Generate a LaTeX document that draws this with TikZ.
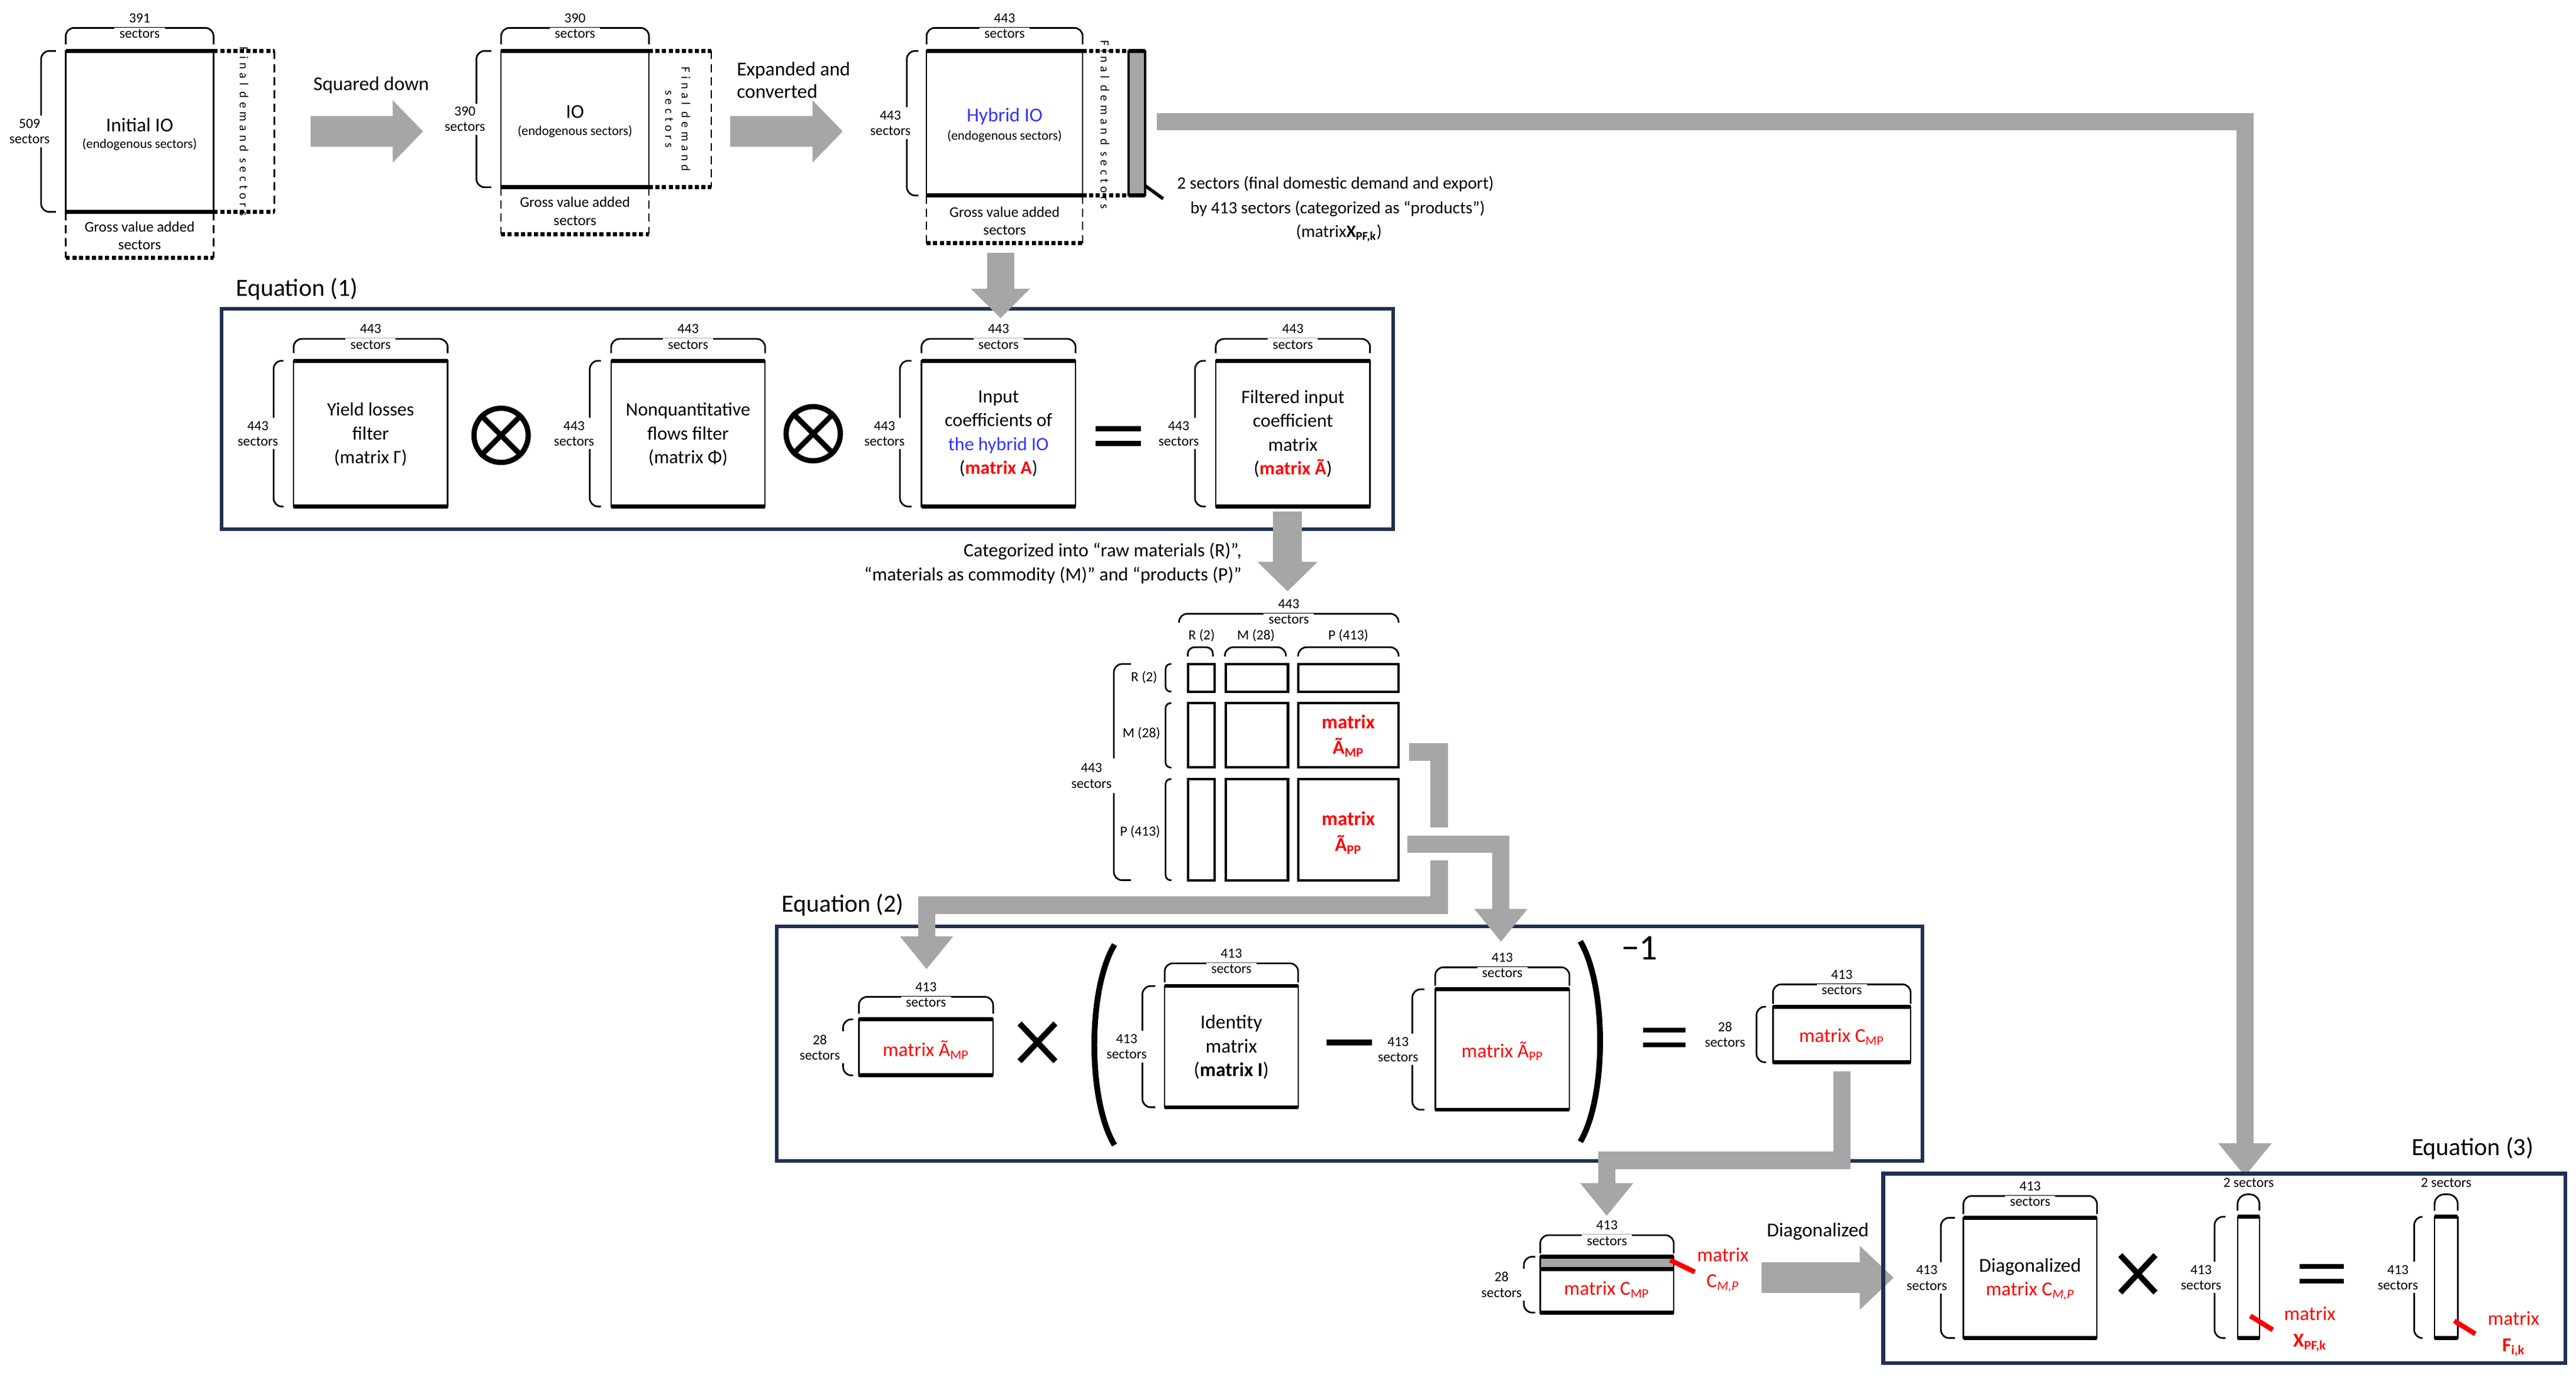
\documentclass[tikz,border=0pt]{standalone}
\usepackage{fontspec}
\setmainfont{Carlito}
\newfontfamily\spc{Carlito}[LetterSpace=30]
\usetikzlibrary{arrows.meta,fit}
\definecolor{gr}{HTML}{A6A6A6}
\definecolor{nv}{HTML}{1F3050}
\definecolor{bl}{HTML}{3333FF}
\tikzset{
 sm/.style={font=\fontsize{8.5}{9.5}\selectfont,align=center,inner sep=1pt},
 md/.style={font=\fontsize{11.5}{14.5}\selectfont,align=center},
 mq/.style={font=\fontsize{12}{14.5}\selectfont,align=center},
 ttl/.style={font=\fontsize{15}{17}\selectfont},
 fd/.style={font=\spc\fontsize{7.5}{10}\selectfont,align=center,rotate=-90},
 br/.style={line width=1pt,rounded corners=5pt},
 dsh/.style={line width=0.9pt,dash pattern=on 5pt off 3pt},
 dotl/.style={line width=2.4pt,dash pattern=on 2.5pt off 1.5pt},
 eqb/.style={draw=nv,line width=2.2pt},
 ga/.style={draw=gr,line width=10.5pt,line join=miter,-{Triangle[width=31pt,length=20pt]}},
 blk/.style={draw=gr,line width=19pt,-{Triangle[width=37pt,length=18.5pt]}},
 rp/.style={red,line width=3pt},
 opl/.style={line width=3.2pt},
}
\newcommand\MX[5]{%
 \coordinate (#1a) at (#2,#3); \coordinate (#1b) at (#4,#5);
 \node[draw,line width=0.9pt,inner sep=0pt,outer sep=0pt,fit=(#1a)(#1b)] (#1) {};
 \draw[line width=2.4pt] (#2,#3)--(#4,#3) (#2,#5)--(#4,#5);}
\newcommand\TB[6]{%
 \draw[br] (#2,#5) -- (#2,#4) -- (#3,#4) -- (#3,#5);
 \node[sm,fill=white,inner xsep=3pt] (#1s) at ({(#2+#3)/2},{#4+3.5}) {sectors};
 \node[sm] (#1n) at ({(#2+#3)/2},{#4-6}) {#6};}
\newcommand\LB[7]{%
 \draw[br] (#3,#4) -- (#2,#4) -- (#2,#5) -- (#3,#5);
 \node[sm,fill=white,inner xsep=3pt,inner ysep=2pt] (#1) at (#6,{(#4+#5)/2}) {#7\\sectors};}
\begin{document}
\begin{tikzpicture}[x=1pt,y=-1pt]
\useasboundingbox (0,0) rectangle (1568,839.4);
% ---------- top row ----------
\MX{ini}{40}{31}{130}{129}
\node[font=\fontsize{12}{13}\selectfont] (iniT) at (85,76) {Initial IO};
\node[font=\fontsize{8}{9}\selectfont] (iniE) at (85,88) {(endogenous sectors)};
\draw[dsh] (167,31) -- (167,129);
\draw[dotl] (130,31)--(167,31) (130,129)--(167,129);
\node[fd] (iniF) at (148.5,80) {Final demand sectors};
\draw[dsh] (40,129)--(40,157) (130,129)--(130,157);
\draw[dotl] (40,157)--(130,157);
\node[sm,font=\fontsize{9}{11}\selectfont] (iniG) at (85,143.5) {Gross value added\\sectors};
\TB{iniB}{40}{130}{17}{27}{391}
\LB{iniL}{25}{34}{31}{129}{18}{509}

\MX{io}{305}{31}{395}{114}
\node[font=\fontsize{12}{13}\selectfont] (ioT) at (350,68) {IO};
\node[font=\fontsize{8}{9}\selectfont] (ioE) at (350,80) {(endogenous sectors)};
\draw[dsh] (433,31) -- (433,114);
\draw[dotl] (395,31)--(433,31) (395,114)--(433,114);
\node[fd] (ioF) at (412.5,72.5) {Final demand\\sectors};
\draw[dsh] (305,114)--(305,142.5) (395,114)--(395,142.5);
\draw[dotl] (305,142.5)--(395,142.5);
\node[sm,font=\fontsize{9}{11}\selectfont] (ioG) at (350,128.5) {Gross value added\\sectors};
\TB{ioB}{305}{395}{17}{27}{390}
\LB{ioL}{290}{299}{31}{114}{283}{390}

\MX{hy}{564}{31}{659}{119}
\node[font=\fontsize{12}{13}\selectfont,text=bl] (hyT) at (611.5,71) {Hybrid IO};
\node[font=\fontsize{8}{9}\selectfont] (hyE) at (611.5,83) {(endogenous sectors)};
\draw[dotl] (659,31)--(687,31) (659,119)--(687,119);
\draw[fill=gr,line width=1.2pt] (687,31) rectangle (697,119);
\draw[line width=2.4pt] (687,31)--(697,31) (687,119)--(697,119);
\node[fd] (hyF) at (672.5,76) {Final demand sectors};
\draw[dsh] (564,119)--(564,148) (659,119)--(659,148);
\draw[dotl] (564,148)--(659,148);
\node[sm,font=\fontsize{9}{11}\selectfont] (hyG) at (611.5,134.5) {Gross value added\\sectors};
\TB{hyB}{564}{659}{17}{27}{443}
\LB{hyL}{552}{559}{31}{119}{542}{443}
\coordinate (fdp) at (697,113);
\draw[line width=2pt] (fdp) -- (708,121);
\node[font=\fontsize{10.5}{12}\selectfont,anchor=west] (fdl1) at (713,112) {2 sectors (final domestic demand and export)};
\node[font=\fontsize{10.5}{12}\selectfont,anchor=west] (fdl2) at (721,127) {by 413 sectors (categorized as “products”)};
\node[font=\fontsize{10.5}{12}\selectfont] (fdl3) at (815,142) {(matrix\textbf{X\textsubscript{PF,k}})};

\coordinate (a1s) at (189,80); \coordinate (a1e) at (257.5,80);
\draw[blk] (a1s) -- (a1e);
\node[font=\fontsize{12}{13}\selectfont] (a1t) at (226,52) {Squared down};
\coordinate (a2s) at (444.6,80); \coordinate (a2e) at (513,80);
\draw[blk] (a2s) -- (a2e);
\node[font=\fontsize{12}{13.7}\selectfont,align=left,anchor=west] (a2t) at (445,48.7) {Expanded and\\converted};

% ---------- Equation 1 ----------
\node[eqb,inner sep=0pt,minimum width=713pt,minimum height=134pt] (eq1) at (491.5,255) {};
\node[ttl] (eq1t) at (180.7,176) {Equation (1)};
\MX{b1}{178.7}{219.6}{272.5}{308.3}
\TB{b1B}{178.7}{272.5}{206.3}{215}{443}
\LB{b1L}{166.5}{172.6}{219.6}{308.3}{157}{443}
\node[md] (b1t) at (225.6,264.5) {Yield losses\\filter\\(matrix Γ)};
\MX{b2}{372}{219.6}{465.7}{308.3}
\TB{b2B}{372}{465.7}{206.3}{215}{443}
\LB{b2L}{359}{365.8}{219.6}{308.3}{349.4}{443}
\node[md] (b2t) at (418.8,264.5) {Nonquantitative\\flows filter\\(matrix Φ)};
\MX{b3}{560.9}{219.6}{654.7}{308.3}
\TB{b3B}{560.9}{654.7}{206.3}{215}{443}
\LB{b3L}{547.8}{554.8}{219.6}{308.3}{538.4}{443}
\node[md] (b3t) at (607.8,264) {Input\\coefficients of\\\textcolor{bl}{the hybrid IO}\\(\textcolor{red}{\textbf{matrix A}})};
\MX{b4}{740}{219.6}{833.9}{308.3}
\TB{b4B}{740}{833.9}{206.3}{215}{443}
\LB{b4L}{727.4}{734}{219.6}{308.3}{717.5}{443}
\node[md] (b4t) at (787,264) {Filtered input\\coefficient\\matrix\\(\textcolor{red}{\textbf{matrix Ã}})};
\node[circle,draw,line width=3.2pt,minimum size=33pt,inner sep=0pt] (ot1) at (305,265) {};
\draw[opl] (ot1.north west) -- (ot1.south east) (ot1.north east) -- (ot1.south west);
\node[circle,draw,line width=3.2pt,minimum size=33pt,inner sep=0pt] (ot2) at (495,264) {};
\draw[opl] (ot2.north west) -- (ot2.south east) (ot2.north east) -- (ot2.south west);
\draw[line width=3pt] (667,261)--(694.6,261) (667,270)--(694.6,270);

\coordinate (d1s) at (609,154); \coordinate (d1e) at (609,193.7);
\draw[ga,line width=16.5pt,-{Triangle[width=35pt,length=18pt]}] (d1s) -- (d1e);
\coordinate (d2s) at (783.7,311.5); \coordinate (d2e) at (783.7,360);
\draw[ga,line width=17.5pt,-{Triangle[width=35.6pt,length=18pt]}] (d2s) -- (d2e);
\node[font=\fontsize{11.5}{14.7}\selectfont,align=right,anchor=east] (cat) at (759.3,343) {Categorized into “raw materials (R)”,\\“materials as commodity (M)” and “products (P)”};

% ---------- grid ----------
\TB{gB}{717.7}{851.3}{373.6}{379}{443}
\draw[br,rounded corners=4pt] (723,399.6)--(723,394)--(738.3,394)--(738.3,399.6);
\draw[br] (745.6,399.6)--(745.6,394)--(782.7,394)--(782.7,399.6);
\draw[br] (790.2,399.6)--(790.2,394)--(851.3,394)--(851.3,399.6);
\node[sm] (cR) at (731.4,387) {R (2)};
\node[sm] (cM) at (764.5,387) {M (28)};
\node[sm] (cP) at (820.7,387) {P (413)};
\foreach \r/\ya/\yb in {R/404.2/421,M/428/467.2,P/474.2/535.8}{
 \draw[line width=1.5pt] (723.2,\ya) rectangle (739.2,\yb);
 \draw[line width=1.5pt] (746,\ya) rectangle (784,\yb);
 \draw[line width=1.5pt] (790.2,\ya) rectangle (851.3,\yb);
 \draw[br,rounded corners=3pt] (713,\ya)--(709.5,\ya)--(709.5,\yb)--(713,\yb);
}
\node[sm] (rR) at (696.4,412.4) {R (2)};
\node[sm] (rM) at (694.8,446.5) {M (28)};
\node[sm] (rP) at (694,506.4) {P (413)};
\draw[br] (688.4,404.2)--(678,404.2)--(678,535.8)--(688.4,535.8);
\node[sm,fill=white,inner xsep=4pt,inner ysep=3pt] (gL) at (664.4,472.3) {443\\sectors};
\node[font=\bfseries\fontsize{12}{15.5}\selectfont,text=red,align=center] (gMP) at (820.7,448) {matrix\\Ã\textsubscript{MP}};
\node[font=\bfseries\fontsize{12}{15.5}\selectfont,text=red,align=center] (gPP) at (820.7,507) {matrix\\Ã\textsubscript{PP}};

% ---------- Equation 2 ----------
\node[eqb,inner sep=0pt,minimum width=697.2pt,minimum height=142.6pt] (eq2) at (821.4,635.3) {};
\node[ttl] (eq2t) at (513,551) {Equation (2)};
\MX{c1}{522.8}{620.5}{604.5}{654.6}
\TB{c1B}{522.8}{604.5}{606.8}{617}{413}
\LB{c1L}{513.2}{519.3}{620.5}{654.6}{499}{28}
\node[mq,text=red] (c1t) at (563.6,639) {matrix Ã\textsubscript{MP}};
\draw[line width=3.5pt] (620.6,623)--(642.4,646) (642.4,623)--(620.6,646);
\draw[line width=3.5pt] (678.4,575) .. controls (662,602) and (662,670) .. (678.4,697);
\draw[line width=3.5pt] (961.9,573) .. controls (978,600) and (978,668) .. (961.9,695);
\node[font=\fontsize{22}{24}\selectfont] (inv) at (998,577) {−1};
\MX{c2}{708.9}{600.2}{790.2}{674}
\TB{c2B}{708.9}{790.2}{586.4}{598}{413}
\LB{c2L}{695.4}{703.2}{600.2}{674}{685.8}{413}
\node[mq] (c2t) at (749.5,637.5) {Identity\\matrix\\(\textbf{matrix I})};
\draw[line width=3.5pt] (807.5,634.6)--(835,634.6);
\MX{c3}{873.6}{602.2}{955.3}{675.5}
\TB{c3B}{873.6}{955.3}{588.8}{600}{413}
\LB{c3L}{859.7}{867}{602.2}{675.5}{851}{413}
\node[mq,text=red] (c3t) at (914.5,640) {matrix Ã\textsubscript{PP}};
\draw[line width=3pt] (1000,627)--(1026,627) (1000,636)--(1026,636);
\MX{c4}{1079.2}{612.8}{1163}{646.6}
\TB{c4B}{1079.2}{1163}{599.2}{611}{413}
\LB{c4L}{1069.2}{1075}{612.8}{646.6}{1050}{28}
\node[mq,text=red] (c4t) at (1121,631) {matrix C\textsubscript{MP}};

% ---------- connectors from grid ----------
\draw[ga] (857.7,457.7) -- (876,457.7) -- (876,551) -- (564,551) -- (564,590);
\draw[white,line width=20pt] (856.6,513.8) -- (918.8,513.8);
\draw[ga] (856.6,513.8) -- (913.6,513.8) -- (913.6,573.3);
\draw[ga] (1121.2,652) -- (1121.2,706.3) -- (978,706.3) -- (978,740.2);
\draw[ga] (704,74) -- (1366.5,74) -- (1366.5,716);

% ---------- Equation 3 ----------
\fill[gr] (937.5,765) rectangle (1018.8,772.4);
\MX{d1}{937.5}{765}{1018.8}{799}
\draw[line width=2.4pt] (937.5,772.4)--(1018.8,772.4);
\TB{d1B}{937.5}{1018.8}{751.9}{763}{413}
\LB{d1L}{927.6}{934.5}{765}{799}{914}{28}
\node[mq,text=red] (d1t) at (978,785) {matrix C\textsubscript{MP}};
\draw[rp] (1016.6,767)--(1031.6,774.3);
\node[font=\fontsize{12}{16}\selectfont,text=red,align=center] (d1p) at (1048.7,773) {matrix\\C\textsubscript{\textit{M,P}}};
\coordinate (a3s) at (1072.3,777.8); \coordinate (a3e) at (1152.7,777.8);
\draw[blk,line width=18.6pt,-{Triangle[width=37.7pt,length=20.7pt]}] (a3s) -- (a3e);
\node[font=\fontsize{12}{13}\selectfont] (a3t) at (1106.5,749.7) {Diagonalized};
\node[eqb,inner sep=0pt,minimum width=415.2pt,minimum height=115.2pt] (eq3) at (1353.9,772) {};
\node[ttl] (eq3t) at (1505,699) {Equation (3)};
\MX{e1}{1195.1}{741.3}{1276.4}{814.5}
\TB{e1B}{1195.1}{1276.4}{728}{739}{413}
\LB{e1L}{1181.4}{1190}{741.3}{814.5}{1172.9}{413}
\node[mq,align=center] (e1t) at (1235.7,778.7) {Diagonalized\\\textcolor{red}{matrix C\textsubscript{\textit{M,P}}}};
\draw[line width=3.5pt] (1290.6,764)--(1312,786.8) (1312,764)--(1290.6,786.8);
\MX{e2}{1362}{740.7}{1375.3}{814.5}
\draw[line width=1pt,rounded corners=6pt] (1362,737)--(1362,727)--(1375.3,727)--(1375.3,737);
\node[sm] (e2n) at (1368.7,720) {2 sectors};
\LB{e2L}{1348}{1354.7}{740.7}{814.5}{1339.8}{413}
\draw[rp] (1369.7,801)--(1383.4,809.5);
\node[font=\fontsize{12}{16}\selectfont,text=red,align=center] (e2p) at (1406,809) {matrix\\\textbf{X\textsubscript{PF,k}}};
\draw[line width=3pt] (1399.7,770.9)--(1426.7,770.9) (1399.7,779.9)--(1426.7,779.9);
\MX{e3}{1481.9}{740.7}{1496}{814.5}
\draw[line width=1pt,rounded corners=6pt] (1481.9,737)--(1481.9,727)--(1496,727)--(1496,737);
\node[sm] (e3n) at (1489,720) {2 sectors};
\LB{e3L}{1469.5}{1474.6}{740.7}{814.5}{1459.6}{413}
\draw[rp] (1493.9,804)--(1506.7,812);
\node[font=\fontsize{12}{16}\selectfont,text=red,align=center] (e3p) at (1530,812) {matrix\\\textbf{F\textsubscript{i,k}}};
\end{tikzpicture}
\end{document}
